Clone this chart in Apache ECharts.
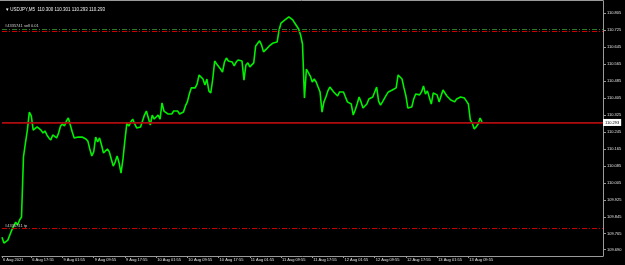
<!DOCTYPE html>
<html>
<head>
<meta charset="utf-8">
<script src="https://cdn.jsdelivr.net/npm/echarts@6/dist/echarts.min.js"></script>
<style>
html,body{margin:0;padding:0;background:#000;}
#c{width:625px;height:265px;}
</style>
</head>
<body>
<div id="c"></div>
<script>
// ---- data ----
const titleText = '\u25BE USDJPY,M5  110.300 110.301 110.293 110.293';
const xTickLabels = ['6 Aug 2021','6 Aug 17:55','9 Aug 01:55','9 Aug 09:55','9 Aug 17:55','10 Aug 01:55','10 Aug 09:55','10 Aug 17:55','11 Aug 01:55','11 Aug 09:55','11 Aug 17:55','12 Aug 01:55','12 Aug 09:55','12 Aug 17:55','13 Aug 01:55','13 Aug 09:55'];
const yTickLabels = ['110.805','110.725','110.645','110.565','110.485','110.405','110.325','110.245','110.165','110.085','110.005','109.925','109.845','109.765','109.690'];
// close prices, one every 30 minutes (6 x M5 bars)
const closePrices = [
109.749,109.721,109.712,109.735,109.759,109.782,109.801,109.820,109.806,109.830,109.844,
110.127,110.193,110.254,110.339,110.321,110.254,110.245,110.269,110.273,110.254,110.240,110.250,
110.231,110.217,110.207,110.231,110.231,110.217,110.240,110.273,110.283,110.273,110.297,110.311,
110.278,110.245,110.217,110.226,110.221,110.217,110.221,110.212,110.212,110.202,110.165,110.132,
110.151,110.221,110.198,110.217,110.184,110.146,110.141,110.165,110.151,110.118,110.084,110.103,
110.132,110.099,110.051,110.118,110.207,110.287,110.273,110.292,110.306,110.283,110.264,110.273,
110.269,110.297,110.325,110.344,110.349,110.278,110.325,110.306,110.311,110.325,110.306,110.382,
110.344,110.349,110.330,110.335,110.330,110.344,110.339,110.344,110.330,110.321,110.339,110.368,
110.387,110.424,110.453,110.457,110.453,110.472,110.514,110.523,110.495,110.467,110.495,110.439,
110.429,110.495,110.580,110.566,110.557,110.542,110.528,110.575,110.594,110.580,110.580,110.575,
110.557,110.575,110.585,110.585,110.580,110.490,110.561,110.571,110.552,110.557,110.571,110.651,
110.646,110.675,110.656,110.623,110.627,110.641,110.651,110.651,110.665,110.660,110.670,110.726,
110.759,110.750,110.774,110.778,110.788,110.788,110.774,110.759,110.750,110.731,110.703,110.660,
110.405,110.542,110.533,110.509,110.481,110.495,110.481,110.457,110.434,110.339,110.387,110.410,
110.439,110.457,110.462,110.434,110.429,110.415,110.434,110.439,110.434,110.410,110.387,110.382,
110.377,110.325,110.349,110.377,110.410,110.387,110.358,110.358,110.377,110.401,110.410,110.410,
110.434,110.457,110.391,110.372,110.387,110.396,110.420,110.434,110.429,110.443,110.443,110.453,
110.514,110.514,110.495,110.453,110.415,110.358,110.353,110.363,110.401,110.424,110.420,110.420,
110.434,110.462,110.424,110.439,110.439,110.377,110.429,110.434,110.420,110.387,110.396,110.443,
110.443,110.415,110.410,110.396,110.391,110.387,110.401,110.410,110.410,110.415,110.405,110.401,
110.377,110.302,110.287,110.259,110.269,110.283,110.311,110.293
];
const slotCount = 309;          // 30-minute slots across the visible window
const barsPerLabel = 16;        // one time label every 8 hours
const bidPrice = 110.293;
const askPrice = 110.288;
const orderOpenPrice = 110.730;
const stopLossPrice = 110.715;
const takeProfitPrice = 109.786;
const orderLabel = '#4335741 sell 0.01';
const tpLabel = '#4335741 tp';
const yMin = 109.660, yMax = 110.863;

// ---- chart ----
const slots = [];
for (let i = 0; i < slotCount; i++) slots.push(String(i));
const yTickValues = yTickLabels.map(Number);
// label k sits one slot before the k-th 8-hour boundary (first one at the left edge)
const labelIndexOf = (idx) => {
  if (idx === 0) return 0;
  if ((idx + 1) % barsPerLabel === 0) {
    const k = (idx + 1) / barsPerLabel;
    return k < xTickLabels.length ? k : -1;
  }
  return -1;
};
const isLabelSlot = (idx) => labelIndexOf(idx) >= 0;

const FONT = 'Liberation Sans';
const AXIS_GREY = '#9a9a9a';
const chart = echarts.init(document.getElementById('c'), null, {renderer: 'canvas'});
chart.setOption({
  backgroundColor: '#000',
  animation: false,
  title: {
    text: titleText, left: 1, top: 2,
    textStyle: {color: '#f0f0f0', fontSize: 4.5, fontFamily: FONT, fontWeight: 'normal'}
  },
  graphic: [{
    type: 'line', silent: true,
    shape: {x1: 0, y1: 0.5, x2: 603.5, y2: 0.5},
    style: {stroke: AXIS_GREY, lineWidth: 1}
  }],
  grid: {left: 0, right: 22, top: 1, bottom: 9},
  xAxis: {
    type: 'category', data: slots, boundaryGap: false,
    axisLine: {show: true, lineStyle: {color: AXIS_GREY, width: 1}},
    axisTick: {show: true, length: 2, interval: (idx) => isLabelSlot(idx), lineStyle: {color: AXIS_GREY}},
    axisLabel: {
      interval: (idx) => isLabelSlot(idx),
      formatter: (v) => { const k = labelIndexOf(Number(v)); return k >= 0 ? xTickLabels[k] : ''; },
      align: 'left', margin: 2, padding: [0, 0, 0, 1], color: '#e0e0e0', fontSize: 4, fontFamily: FONT
    },
    splitLine: {show: false}
  },
  yAxis: {
    type: 'value', position: 'right', min: yMin, max: yMax, scale: true,
    axisLine: {show: true, lineStyle: {color: AXIS_GREY, width: 1}},
    axisTick: {show: true, length: 3, customValues: yTickValues, lineStyle: {color: AXIS_GREY}},
    axisLabel: {
      customValues: yTickValues, formatter: (v) => Number(v).toFixed(3),
      margin: 4, color: '#e0e0e0', fontSize: 4, fontFamily: FONT
    },
    splitLine: {show: false}
  },
  series: [{
    type: 'line', data: closePrices, showSymbol: false, silent: true,
    lineStyle: {color: '#00f000', width: 1.6},
    markLine: {
      silent: true, symbol: 'none', animation: false,
      data: [
        {yAxis: askPrice, lineStyle: {color: '#3c4c5c', width: 1, type: 'solid'}, label: {show: false}},
        {yAxis: bidPrice, lineStyle: {color: '#c40000', width: 1.5, type: 'solid'},
          label: {show: true, position: 'end', distance: 0, formatter: bidPrice.toFixed(3),
            backgroundColor: '#ffffff', color: '#000', padding: [2, 2, 1, 2], fontSize: 4, fontFamily: FONT}},
        {yAxis: orderOpenPrice, lineStyle: {color: '#2a7a2a', width: 1, type: [5, 2, 1, 2]},
          label: {show: true, position: 'insideStartTop', distance: [3, 1], formatter: orderLabel,
            color: '#cfcfcf', fontSize: 4, fontFamily: FONT}},
        {yAxis: stopLossPrice, lineStyle: {color: '#d00000', width: 1, type: [5, 2, 1, 2]}, label: {show: false}},
        {yAxis: takeProfitPrice, lineStyle: {color: '#c80000', width: 1, type: [5, 2, 1, 2]},
          label: {show: true, position: 'insideStartTop', distance: [3, 1], formatter: tpLabel,
            color: '#cfcfcf', fontSize: 4, fontFamily: FONT}}
      ]
    }
  }]
});
</script>
</body>
</html>
